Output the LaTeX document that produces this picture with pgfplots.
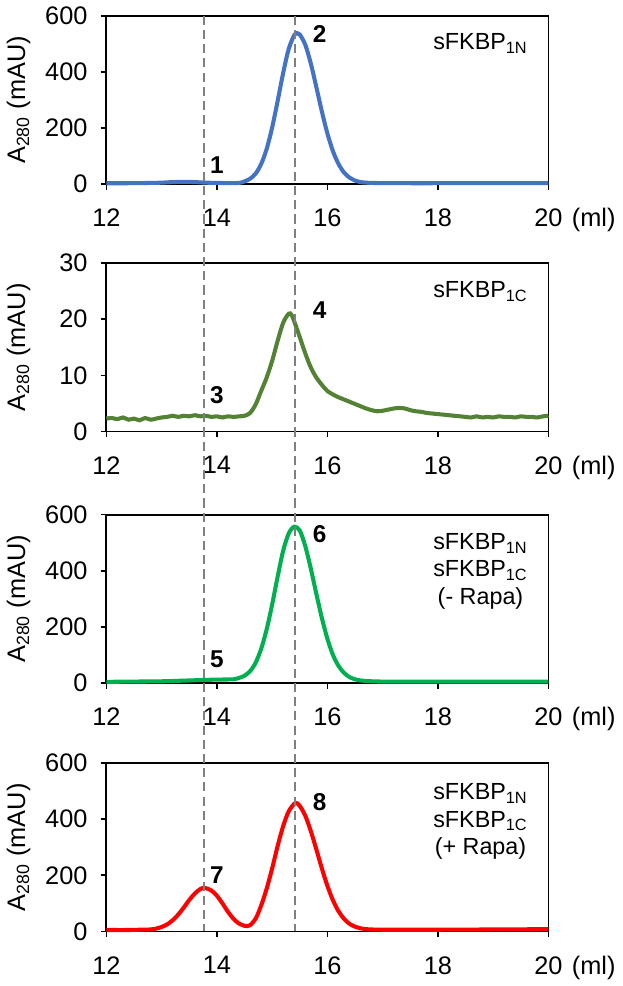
\documentclass[border=0pt]{standalone}
\usepackage{fontspec}
\setmainfont{Liberation Sans}
\usepackage{pgfplots}
\pgfplotsset{compat=1.18}

\definecolor{c1}{HTML}{4472C4}
\definecolor{c2}{HTML}{548235}
\definecolor{c3}{HTML}{00B050}
\definecolor{c4}{HTML}{FF0000}
\definecolor{dashgray}{HTML}{808080}

\pgfplotsset{
  panel/.style={
    width=218pt, height=83pt, scale only axis,
    anchor=north west,
    xmin=12, xmax=20, ymin=0,
    xtick={12,14,16,18,20},
    tick align=outside, xtick pos=bottom, ytick pos=left,
    major tick length=2.8pt,
    tick style={black, line width=0.8pt},
    axis line style={black, line width=0.9pt},
    ticklabel style={font=\fontsize{12.5}{14}\selectfont},
    xticklabel style={yshift=-6pt},
    yticklabel style={xshift=-3pt},
    /pgf/number format/assume math mode=true,
    ylabel={A\textsubscript{280} (mAU)},
    every axis y label/.style={at={(axis description cs:0,0.5)}, xshift=-43.3pt, anchor=center, rotate=90,
      font=\fontsize{12.5}{14}\selectfont},
    xlabel={(ml)},
    every axis x label/.style={at={(axis description cs:1,0)}, anchor=base west, xshift=8pt, yshift=-21pt,
      font=\fontsize{12.5}{14}\selectfont},
    clip=false,
  },
  curve/.style={line width=2pt, smooth},
}
\tikzset{
  num/.style={font=\bfseries\fontsize{12}{14}\selectfont},
  tag/.style={align=center, font=\fontsize{11.5}{13.5}\selectfont},
}

\begin{document}
\begin{tikzpicture}
% panel 1: sFKBP1N
\begin{axis}[panel, at={(0,0)}, ymax=600, ytick={0,200,400,600}]
\addplot[curve, c1] coordinates {
(12.0,3) (12.4,3) (12.8,4) (13.0,5) (13.2,7) (13.4,8) (13.6,7) (13.8,5) (14.0,4)
(14.2,3.5) (14.4,4) (14.5,9.5) (14.6,19) (14.7,37) (14.8,71) (14.9,125) (15.0,202)
(15.1,297) (15.2,397) (15.3,482) (15.4,531) (15.45,538) (15.5,533) (15.6,496) (15.7,429)
(15.8,345) (15.9,258) (16.0,180) (16.1,117) (16.2,72) (16.3,41) (16.4,23) (16.5,12.5)
(16.6,7) (16.7,5) (16.8,4) (17.0,3.5) (17.5,3) (18.0,3) (19.0,3) (20.0,3)
};
\node[num] at (axis cs:14.0,68) {1};
\node[num] at (axis cs:15.86,535) {2};
\node[tag] at (axis cs:18.77,500) {sFKBP\textsubscript{1N}};
\coordinate (ta) at (axis cs:13.77,600);
\coordinate (tb) at (axis cs:15.42,600);
\end{axis}

% panel 2: sFKBP1C
\begin{axis}[panel, at={(0,-122pt)}, ymax=30, ytick={0,10,20,30}]
\addplot[curve, c2] coordinates {
(12.0,2.3) (12.1,2.4) (12.2,2.2) (12.3,2.5) (12.4,2.1) (12.5,2.3) (12.6,2.0) (12.7,2.4)
(12.8,2.1) (12.9,2.3) (13.0,2.5) (13.1,2.6) (13.2,2.8) (13.3,2.6) (13.4,2.8) (13.5,2.7)
(13.6,2.9) (13.7,2.7) (13.8,2.8) (13.9,2.6) (14.0,2.7) (14.1,2.5) (14.2,2.7) (14.3,2.6)
(14.4,2.7) (14.5,2.8) (14.6,3.3) (14.7,4.8) (14.8,7.2) (14.9,9.6) (15.0,12.6) (15.1,16.2)
(15.2,19.4) (15.3,21.0) (15.35,20.8) (15.4,19.6) (15.5,16.8) (15.6,13.9) (15.7,11.4)
(15.8,9.6) (15.9,8.3) (16.0,7.2) (16.1,6.6) (16.2,6.1) (16.3,5.7) (16.4,5.3) (16.5,4.9)
(16.6,4.5) (16.7,4.1) (16.8,3.8) (16.9,3.6) (17.0,3.7) (17.1,3.9) (17.2,4.1) (17.3,4.2)
(17.4,4.1) (17.5,3.8) (17.6,3.6) (17.7,3.5) (17.8,3.3) (17.9,3.2) (18.0,3.1) (18.1,3.0)
(18.2,2.9) (18.3,2.8) (18.4,2.7) (18.5,2.6) (18.6,2.5) (18.7,2.7) (18.8,2.5) (18.9,2.6)
(19.0,2.5) (19.1,2.7) (19.2,2.6) (19.3,2.6) (19.4,2.5) (19.5,2.7) (19.6,2.6) (19.7,2.6)
(19.8,2.5) (19.9,2.7) (20.0,2.8)
};
\node[num] at (axis cs:14.0,6.4) {3};
\node[num] at (axis cs:15.86,21.7) {4};
\node[tag] at (axis cs:18.77,24.9) {sFKBP\textsubscript{1C}};
\end{axis}

% panel 3: both, no rapamycin
\begin{axis}[panel, at={(0,-246pt)}, ymax=600, ytick={0,200,400,600}]
\addplot[curve, c3] coordinates {
(12.0,4) (12.5,5) (13.0,6) (13.5,9) (13.8,11) (14.0,12) (14.2,12.5) (14.3,13) (14.4,18)
(14.5,26) (14.6,42) (14.7,72) (14.8,121) (14.9,191) (15.0,280) (15.1,380) (15.2,472)
(15.3,533) (15.4,557) (15.5,543) (15.6,487) (15.7,407) (15.8,317) (15.9,231) (16.0,157)
(16.1,100) (16.2,61) (16.3,36) (16.4,21) (16.5,13) (16.6,9) (16.7,7) (16.8,6) (17.0,5)
(17.5,5) (18.0,5) (19.0,5) (20.0,5)
};
\node[num] at (axis cs:14.0,85) {5};
\node[num] at (axis cs:15.86,532) {6};
\node[tag] at (axis cs:18.77,398) {sFKBP\textsubscript{1N}\\sFKBP\textsubscript{1C}\\(- Rapa)};
\end{axis}

% panel 4: both, with rapamycin
\begin{axis}[panel, at={(0,-368.5pt)}, ymax=600, ytick={0,200,400,600}]
\addplot[curve, c4] coordinates {
(12.0,5) (12.4,5) (12.6,6) (12.8,7) (12.9,10) (13.0,16) (13.1,25) (13.2,40) (13.3,60)
(13.4,85) (13.5,112) (13.6,135) (13.7,151) (13.78,155) (13.9,146) (14.0,127) (14.1,100)
(14.2,70) (14.3,45) (14.4,28) (14.5,20) (14.55,19) (14.6,22) (14.7,45) (14.8,92) (14.9,152)
(15.0,225) (15.1,305) (15.2,376) (15.3,428) (15.42,458) (15.5,447) (15.6,412) (15.7,357)
(15.8,292) (15.9,224) (16.0,162) (16.1,111) (16.2,72) (16.3,45) (16.4,27) (16.5,17)
(16.6,11) (16.7,8) (16.8,7) (17.0,6) (18.0,6) (19.0,7) (20.0,8)
};
\node[num] at (axis cs:14.0,202) {7};
\node[num] at (axis cs:15.86,460) {8};
\node[tag] at (axis cs:18.77,391) {sFKBP\textsubscript{1N}\\sFKBP\textsubscript{1C}\\(+ Rapa)};
\coordinate (ba) at (axis cs:13.77,0);
\coordinate (bb) at (axis cs:15.42,0);
\end{axis}

\draw[dashgray, line width=1pt, dash pattern=on 4.5pt off 2.5pt] (ta) -- (ta |- ba);
\draw[dashgray, line width=1pt, dash pattern=on 4.5pt off 2.5pt] (tb) -- (tb |- bb);
\end{tikzpicture}
\end{document}
